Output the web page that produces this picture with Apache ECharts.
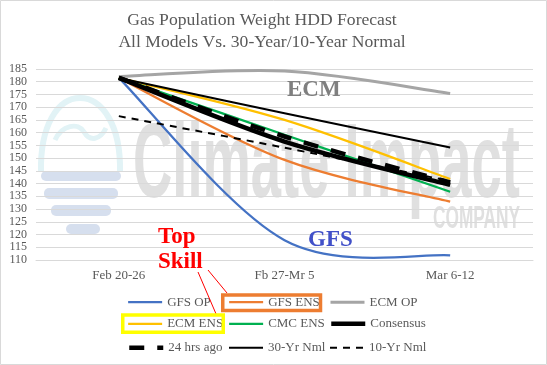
<!DOCTYPE html>
<html><head><meta charset="utf-8">
<script src="https://cdn.jsdelivr.net/npm/echarts@6/dist/echarts.min.js"></script>
<style>html,body{margin:0;padding:0;background:#fff}#c{width:547px;height:365px}</style>
</head><body><div id="c"></div>
<script>
// ---- data ----
const categories = ['Feb 20-26', 'Fb 27-Mr 5', 'Mar 6-12'];
const gfsOp     = [181.5, 117.8, 111.8];
const gfsEns    = [181.5, 149.3, 132.9];
const ecmOp     = [182.0, 184.2, 175.4];
const ecmEns    = [181.5, 165.0, 141.8];
const cmcEns    = [181.5, 159.2, 136.8];
const consensus = [181.5, 156.5, 139.5];
const hrs24Ago  = [181.5, 158.5, 140.5];
const nml30     = [181.5, 167.6, 154.2];
const nml10     = [166.5, 154.1, 141.0];
const yMin = 110, yMax = 185, yStep = 5;
const legendRows = [
  ['GFS OP', 'GFS ENS', 'ECM OP'],
  ['ECM ENS', 'CMC ENS', 'Consensus'],
  ['24 hrs ago', '30-Yr Nml', '10-Yr Nml']
];
const titleLines = ['Gas Population Weight HDD Forecast', 'All Models Vs. 30-Year/10-Year Normal'];

// ---- styles ----
const defs = [
  {name: 'GFS OP', data: gfsOp, color: '#4472C4', width: 2.25},
  {name: 'GFS ENS', data: gfsEns, color: '#ED7D31', width: 2.25},
  {name: 'ECM OP', data: ecmOp, color: '#A5A5A5', width: 3},
  {name: 'ECM ENS', data: ecmEns, color: '#FFC000', width: 2.25},
  {name: 'CMC ENS', data: cmcEns, color: '#00B050', width: 2.25},
  {name: 'Consensus', data: consensus, color: '#000000', width: 4.5},
  {name: '24 hrs ago', data: hrs24Ago, color: '#000000', width: 4.5, dash: [15, 13]},
  {name: '30-Yr Nml', data: nml30, color: '#000000', width: 2},
  {name: '10-Yr Nml', data: nml10, color: '#000000', width: 2, dash: [7, 6]}
];
const defMap = {};
defs.forEach(d => defMap[d.name] = d);
const SERIF = '"Liberation Serif", "Times New Roman", serif';
const TXT = '#595959';

// Excel-style smoothed curve through the data points (via the axis scales)
function splineRenderer(def) {
  return function (params, api) {
    if (params.dataIndex !== 0) return null;
    const pts = def.data.map((v, i) => api.coord([i, v]));
    const n = pts.length;
    let d = 'M' + pts[0][0] + ',' + pts[0][1];
    for (let i = 0; i < n - 1; i++) {
      const p0 = pts[Math.max(i - 1, 0)], p1 = pts[i], p2 = pts[i + 1], p3 = pts[Math.min(i + 2, n - 1)];
      const c1 = [p1[0] + (p2[0] - p0[0]) / 6, p1[1] + (p2[1] - p0[1]) / 6];
      const c2 = [p2[0] - (p3[0] - p1[0]) / 6, p2[1] - (p3[1] - p1[1]) / 6];
      d += ' C' + c1[0] + ',' + c1[1] + ' ' + c2[0] + ',' + c2[1] + ' ' + p2[0] + ',' + p2[1];
    }
    return {
      type: 'path',
      shape: {pathData: d},
      style: {fill: 'none', stroke: def.color, lineWidth: def.width, lineDash: def.dash || null, lineCap: 'butt', lineJoin: 'round'}
    };
  };
}

const series = [];
defs.forEach(def => {
  series.push({
    type: 'line', name: def.name, data: def.data, symbol: 'none', silent: true, z: 1,
    itemStyle: {color: def.color},
    lineStyle: {color: def.color, width: def.width, opacity: 0}
  });
});
defs.forEach((def, k) => {
  series.push({
    type: 'custom', name: def.name + ' curve', coordinateSystem: 'cartesian2d', clip: false, silent: true,
    z: 3 + k,
    data: def.data.map((v, i) => [i, v]),
    encode: {x: 0, y: 1},
    renderItem: splineRenderer(def)
  });
});

const rowTops = [295.7, 317.3, 341.3];
const colLefts = [127, 228, 329];
const legends = [];
legendRows.forEach((row, r) => row.forEach((n, c) => {
  const d = defMap[n];
  legends.push({
    left: colLefts[c], top: rowTops[r], orient: 'horizontal', padding: 0,
    itemWidth: 34, itemHeight: 14, itemGap: 0, selectedMode: false,
    textStyle: {fontFamily: SERIF, fontSize: 13, color: TXT},
    data: [{name: n, itemStyle: {opacity: 0},
      lineStyle: {color: d.color, width: d.width, type: d.dash || 'solid', opacity: 1}}]
  });
}));

const WM = '#e0e0e0';
const CY = '#e2f3f6';
const BL = '#d6dfee';
const graphics = [
  // watermark
  {type: 'bezierCurve', z: -5, silent: true, shape: {x1: 41, y1: 172, cpx1: 40, cpy1: 125, cpx2: 58, cpy2: 98, x2: 80, y2: 98}, style: {fill: 'none', stroke: CY, lineWidth: 6}},
  {type: 'bezierCurve', z: -5, silent: true, shape: {x1: 80, y1: 98, cpx1: 102, cpy1: 98, cpx2: 121, cpy2: 125, x2: 120, y2: 172}, style: {fill: 'none', stroke: CY, lineWidth: 6}},
  {type: 'bezierCurve', z: -5, silent: true, shape: {x1: 55, y1: 140, cpx1: 62, cpy1: 125, cpx2: 78, cpy2: 122, x2: 84, y2: 132}, style: {fill: 'none', stroke: CY, lineWidth: 5}},
  {type: 'bezierCurve', z: -5, silent: true, shape: {x1: 84, y1: 132, cpx1: 90, cpy1: 142, cpx2: 100, cpy2: 140, x2: 106, y2: 128}, style: {fill: 'none', stroke: CY, lineWidth: 5}},
  {type: 'rect', z: -4, silent: true, shape: {x: 41, y: 171, width: 80, height: 10, r: 5}, style: {fill: BL}},
  {type: 'rect', z: -4, silent: true, shape: {x: 44, y: 188, width: 74, height: 11, r: 5}, style: {fill: BL}},
  {type: 'rect', z: -4, silent: true, shape: {x: 51, y: 205, width: 60, height: 11, r: 5}, style: {fill: BL}},
  {type: 'rect', z: -4, silent: true, shape: {x: 66, y: 224, width: 34, height: 10, r: 5}, style: {fill: BL}},
  {type: 'text', z: -4, silent: true, x: 133, y: 168, scaleX: 0.518,
   style: {text: 'Climate Impact', font: 'bold 105px "Liberation Sans"', fill: WM, verticalAlign: 'middle', align: 'left'}},
  {type: 'text', z: -4, silent: true, x: 433, y: 219, scaleX: 0.54,
   style: {text: 'COMPANY', font: 'bold 32px "Liberation Sans"', fill: WM, verticalAlign: 'middle', align: 'left'}},
  // border
  {type: 'rect', z: 50, silent: true, shape: {x: 0.5, y: 0.5, width: 546, height: 364}, style: {fill: 'none', stroke: '#d9d9d9', lineWidth: 1}},
  // title
  {type: 'text', z: 50, x: 262, y: 20.7, style: {text: titleLines[0], font: '17.6px "Liberation Serif"', fill: TXT, align: 'center', verticalAlign: 'middle'}},
  {type: 'text', z: 50, x: 262, y: 42.7, style: {text: titleLines[1], font: '17.6px "Liberation Serif"', fill: TXT, align: 'center', verticalAlign: 'middle'}},
  // annotations
  {type: 'text', z: 50, x: 287, y: 90, style: {text: 'ECM', font: 'bold 23px "Liberation Serif"', fill: '#7f7f7f', align: 'left', verticalAlign: 'middle'}},
  {type: 'text', z: 50, x: 308, y: 240.5, style: {text: 'GFS', font: 'bold 23px "Liberation Serif"', fill: '#4150c8', align: 'left', verticalAlign: 'middle'}},
  {type: 'text', z: 50, x: 158, y: 236.7, style: {text: 'Top', font: 'bold 23px "Liberation Serif"', fill: '#ff0000', align: 'left', verticalAlign: 'middle'}},
  {type: 'text', z: 50, x: 158, y: 261.7, style: {text: 'Skill', font: 'bold 23px "Liberation Serif"', fill: '#ff0000', align: 'left', verticalAlign: 'middle'}},
  {type: 'line', z: 50, silent: true, shape: {x1: 198, y1: 272, x2: 216.5, y2: 315}, style: {stroke: '#ff0000', lineWidth: 1}},
  {type: 'line', z: 50, silent: true, shape: {x1: 208, y1: 270, x2: 227, y2: 293}, style: {stroke: '#ff0000', lineWidth: 1}},
  // legend highlight boxes
  {type: 'rect', z: 50, silent: true, shape: {x: 222.75, y: 295, width: 97.75, height: 15.5}, style: {fill: 'none', stroke: '#ED7D31', lineWidth: 3.5}},
  {type: 'rect', z: 50, silent: true, shape: {x: 122.75, y: 315, width: 100.5, height: 17.3}, style: {fill: 'none', stroke: '#FFFF00', lineWidth: 3.5}}
];

const option = {
  animation: false,
  backgroundColor: '#ffffff',
  textStyle: {fontFamily: SERIF},
  grid: {left: 36, right: 14, top: 69, bottom: 105, containLabel: false},
  xAxis: {
    type: 'category', data: categories, boundaryGap: true,
    axisLine: {show: true, lineStyle: {color: '#d9d9d9', width: 1}},
    axisTick: {show: false},
    axisLabel: {color: TXT, fontFamily: SERIF, fontSize: 13, margin: 9},
    splitLine: {show: false}
  },
  yAxis: {
    type: 'value', min: yMin, max: yMax, interval: yStep,
    axisLine: {show: false}, axisTick: {show: false},
    axisLabel: {color: TXT, fontFamily: SERIF, fontSize: 12, margin: 9},
    splitLine: {show: true, lineStyle: {color: '#d9d9d9', width: 1}}
  },
  legend: legends,
  graphic: {elements: graphics},
  series: series
};
const chart = echarts.init(document.getElementById('c'), null, {renderer: 'canvas'});
chart.setOption(option);
</script>
</body></html>
